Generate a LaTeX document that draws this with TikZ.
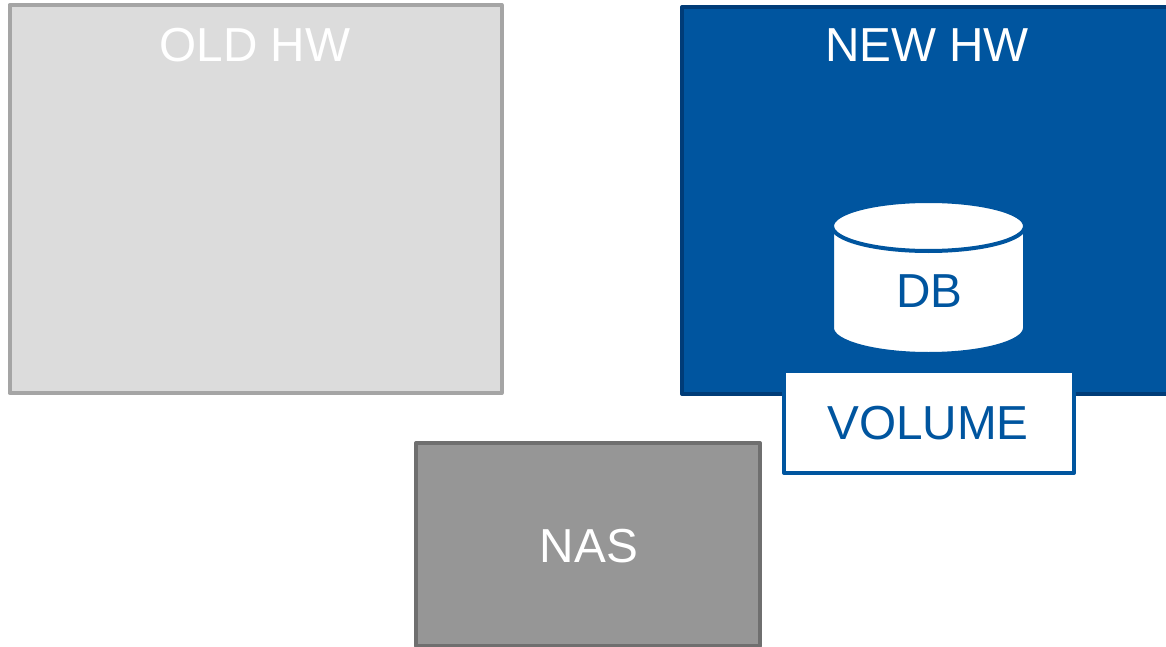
\documentclass[tikz,border=0pt]{standalone}
\usepackage{fontspec}
\setmainfont{Liberation Sans}

\definecolor{hwblue}{HTML}{00559F}
\definecolor{hwbluedark}{HTML}{003C78}
\definecolor{oldfill}{HTML}{DCDCDC}
\definecolor{oldline}{HTML}{A5A5A5}
\definecolor{nasfill}{HTML}{969696}
\definecolor{nasline}{HTML}{6F6F6F}

\begin{document}
\begin{tikzpicture}[x=1pt, y=-1pt,
        box/.style={rectangle, line width=4pt, line join=round, inner sep=0pt},
        label_node/.style={font=\fontsize{47.7}{50}\selectfont, inner sep=0pt}
    ]
    \useasboundingbox (0,0) rectangle (1166,647);

    % --- OLD HW ---
    \node[box, draw=oldline, fill=oldfill, minimum width=492pt, minimum height=388pt] (oldhw) at (255.5, 199) {};
    \node[label_node, text=white] (oldlabel) at (255, 45) {OLD HW};

    % --- NEW HW ---
    \node[box, draw=hwbluedark, fill=hwblue, minimum width=488pt, minimum height=387pt] (newhw) at (926, 200.5) {};
    \node[label_node, text=white] (newlabel) at (927, 45) {NEW HW};

    % --- DB ---
    \draw[line width=4pt, draw=hwblue, fill=white] (832,226) arc[start angle=180, end angle=0, x radius=96.5pt, y radius=25pt]
        -- (1025,328) arc[start angle=0, end angle=-180, x radius=96.5pt, y radius=26pt] -- cycle;
    % Bordo del coperchio
    \draw[line width=4pt, draw=hwblue] (832,226) arc[start angle=180, end angle=360, x radius=96.5pt, y radius=25pt];
    \node[label_node, text=hwblue] (dblabel) at (929.5, 291) {DB};

    % --- VOLUME ---
    \node[box, draw=hwblue, fill=white, minimum width=290pt, minimum height=102pt] (volume) at (929, 422) {};
    \node[label_node, text=hwblue] (volumelabel) at (928, 423) {VOLUME};

    % --- NAS ---
    \node[box, draw=nasline, fill=nasfill, minimum width=344pt, minimum height=203pt] (nas) at (588, 544.5) {};
    \node[label_node, text=white] (naslabel) at (589, 546) {NAS};

\end{tikzpicture}
\end{document}
